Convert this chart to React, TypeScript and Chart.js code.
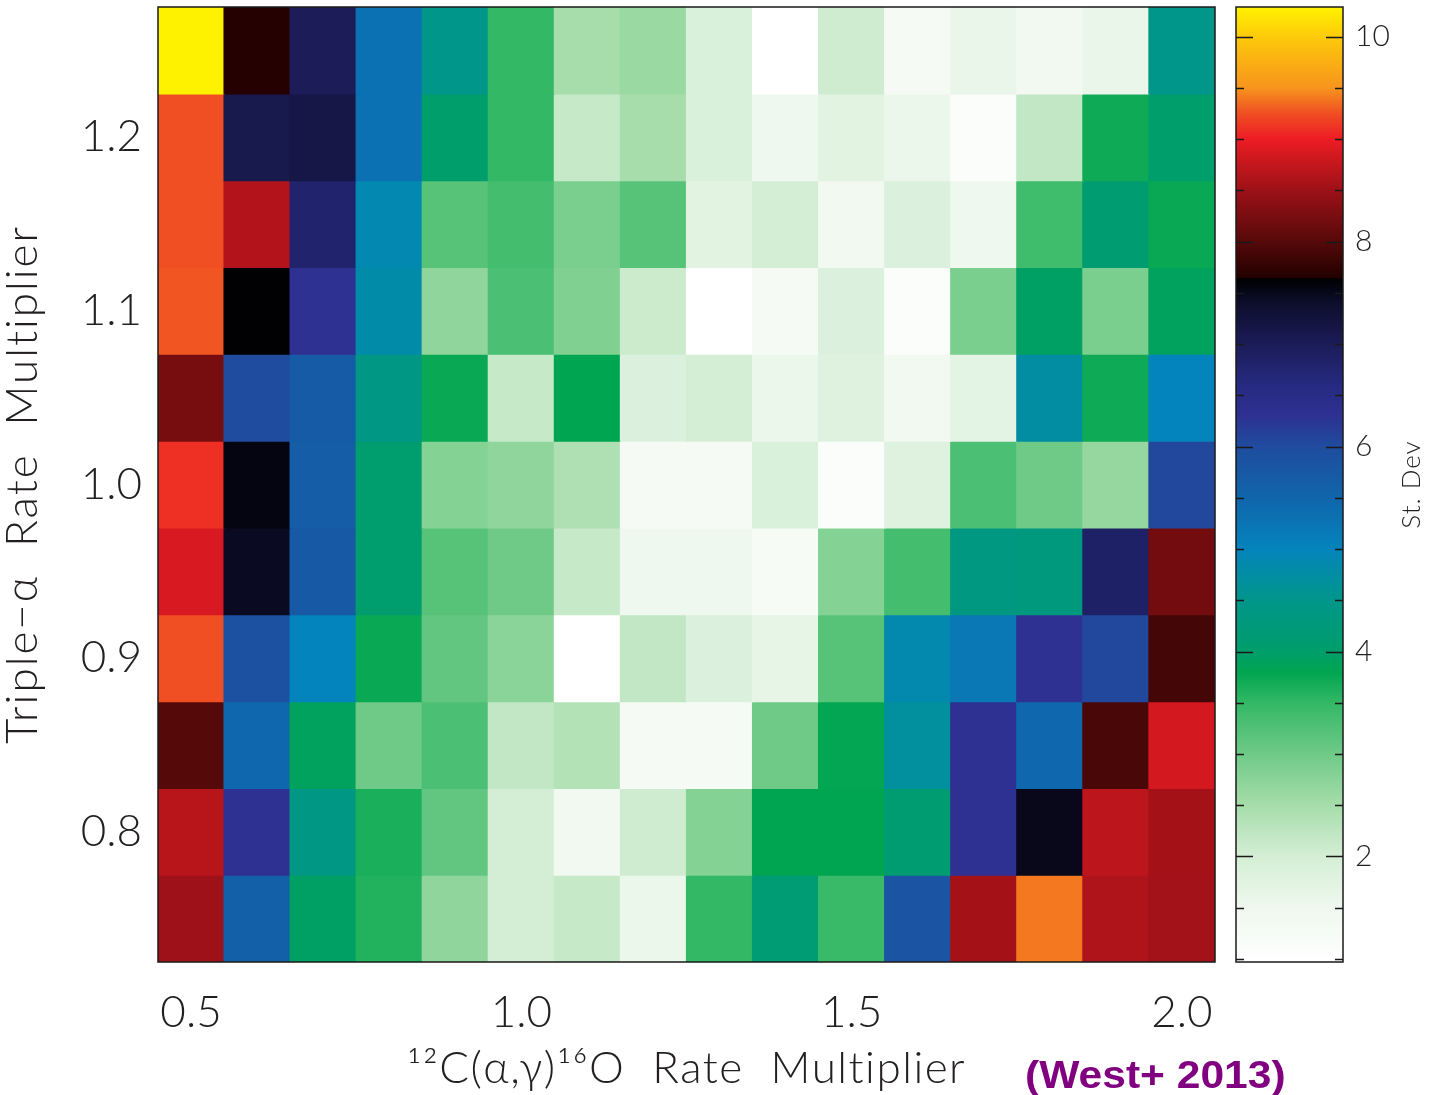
import { useEffect, useRef } from 'react';
import { Chart, registerables } from 'chart.js';

Chart.register(...registerables);

// 12C(α,γ)16O rate multipliers (heatmap columns)
const cagoMultipliers = [0.5, 0.6, 0.7, 0.8, 0.9, 1.0, 1.1, 1.2, 1.3, 1.4, 1.5, 1.6, 1.7, 1.8, 1.9, 2.0];
// Triple-alpha rate multipliers (heatmap rows, top to bottom)
const tripleAlphaMultipliers = [1.25, 1.2, 1.15, 1.1, 1.05, 1.0, 0.95, 0.9, 0.85, 0.8, 0.75];

// Standard deviation per row, one value per 12C(α,γ)16O multiplier
const stDevTa125 = [10.29, 7.68, 7.0, 5.3, 4.5, 3.5, 2.5, 2.6, 1.9, 0.97, 2.05, 1.3, 1.6, 1.4, 1.6, 4.5];
const stDevTa120 = [9.25, 7.1, 7.15, 5.3, 4.0, 3.5, 2.15, 2.5, 1.9, 1.5, 1.75, 1.55, 1.15, 2.2, 3.72, 4.0];
const stDevTa115 = [9.25, 8.64, 6.8, 4.9, 3.2, 3.35, 2.9, 3.2, 1.75, 2.0, 1.4, 1.85, 1.5, 3.4, 4.1, 3.75];
const stDevTa110 = [9.28, 7.63, 6.3, 4.8, 2.7, 3.3, 2.85, 2.1, 0.97, 1.3, 1.85, 1.15, 2.9, 3.95, 2.9, 3.9];
const stDevTa105 = [8.24, 6.0, 5.7, 4.4, 3.75, 2.15, 3.8, 1.85, 2.0, 1.55, 1.8, 1.45, 1.7, 4.75, 3.72, 5.0];
const stDevTa100 = [9.1, 7.55, 5.65, 4.05, 2.8, 2.7, 2.4, 1.3, 1.3, 1.9, 1.15, 1.8, 3.3, 3.0, 2.65, 6.05];
const stDevTa095 = [8.87, 7.45, 5.75, 4.05, 3.2, 3.0, 2.15, 1.5, 1.5, 1.25, 2.8, 3.35, 4.35, 4.3, 6.85, 8.2];
const stDevTa090 = [9.25, 5.9, 5.0, 3.75, 3.1, 2.75, 0.97, 2.2, 1.85, 1.65, 3.2, 4.85, 5.2, 6.3, 6.05, 7.88];
const stDevTa085 = [8.0, 5.45, 3.9, 3.0, 3.3, 2.2, 2.35, 1.3, 1.3, 3.0, 3.78, 4.7, 6.3, 5.45, 7.92, 8.84];
const stDevTa080 = [8.67, 6.3, 4.4, 3.65, 3.1, 2.0, 1.4, 2.05, 2.8, 3.8, 3.8, 4.1, 6.3, 7.5, 8.7, 8.55];
const stDevTa075 = [8.52, 5.6, 3.95, 3.6, 2.7, 2.0, 2.15, 1.55, 3.5, 4.15, 3.45, 5.85, 8.55, 9.4, 8.62, 8.54];

const stDevRows = [
  stDevTa125, stDevTa120, stDevTa115, stDevTa110, stDevTa105, stDevTa100,
  stDevTa095, stDevTa090, stDevTa085, stDevTa080, stDevTa075,
];

// Axis tick labels
const cagoTicks = [0.5, 1.0, 1.5, 2.0];
const tripleAlphaTicks = [0.8, 0.9, 1.0, 1.1, 1.2];
const stDevTicks = [2, 4, 6, 8, 10];

// Colour table: white -> greens -> teal -> blues -> black | dark red -> red -> orange -> yellow
const COLOR_STOPS: [number, string][] = [
  [0.97, '#ffffff'],
  [1.5, '#eff8ee'],
  [2.0, '#d4eed5'],
  [2.5, '#a6ddaa'],
  [3.0, '#6fca87'],
  [3.5, '#33b865'],
  [3.8, '#00a551'],
  [4.0, '#009e6b'],
  [4.5, '#00968a'],
  [5.0, '#0484bc'],
  [5.5, '#1065ab'],
  [6.0, '#1f4c9f'],
  [6.3, '#2e3192'],
  [6.6, '#262a80'],
  [7.0, '#1b1c58'],
  [7.4, '#0d0e2c'],
  [7.645, '#000000'],
  [7.65, '#220000'],
  [8.0, '#560909'],
  [8.5, '#9c1117'],
  [9.0, '#ed1c24'],
  [9.25, '#f04e23'],
  [9.5, '#f7941d'],
  [10.0, '#fdca0a'],
  [10.29, '#fff200'],
];

function hexToRgb(h: string): number[] {
  const n = parseInt(h.slice(1), 16);
  return [(n >> 16) & 255, (n >> 8) & 255, n & 255];
}

function stDevColor(v: number): string {
  const s = COLOR_STOPS;
  if (v <= s[0][0]) return s[0][1];
  for (let i = 1; i < s.length; i++) {
    if (v <= s[i][0]) {
      const t = (v - s[i - 1][0]) / (s[i][0] - s[i - 1][0]);
      const a = hexToRgb(s[i - 1][1]);
      const b = hexToRgb(s[i][1]);
      const c = a.map((x, k) => Math.round(x + (b[k] - x) * t));
      return `rgb(${c[0]},${c[1]},${c[2]})`;
    }
  }
  return s[s.length - 1][1];
}

const allValues = stDevRows.flat();
const cbMin = Math.min(...allValues);
const cbMax = Math.max(...allValues);

const rowStep = 0.05;
const yMin = Math.min(...tripleAlphaMultipliers) - rowStep / 2;
const yMax = Math.max(...tripleAlphaMultipliers) + rowStep / 2;

const PAGE_W = 1431;
const PAGE_H = 1095;
const TEXT = '#231f20';
const LIGHT_FONT = '"Lato", "Open Sans", "DejaVu Sans", sans-serif';

const X_TITLE = '¹²C(α,γ)¹⁶O  Rate  Multiplier';
const Y_TITLE = 'Triple−α  Rate  Multiplier';

// Frame, spaced axis titles and the citation note of the heatmap panel
const heatDecor = {
  id: 'heatDecor',
  afterDatasetsDraw(chart: any) {
    const { ctx, chartArea: a } = chart;
    ctx.save();
    ctx.strokeStyle = '#1a1a1a';
    ctx.lineWidth = 1.5;
    ctx.strokeRect(a.left, a.top, a.right - a.left, a.bottom - a.top);
    ctx.restore();
  },
  afterDraw(chart: any) {
    const { ctx, chartArea: a } = chart;
    ctx.save();
    ctx.fillStyle = TEXT;
    ctx.font = `300 44px ${LIGHT_FONT}`;
    ctx.textAlign = 'center';
    ctx.textBaseline = 'alphabetic';
    (ctx as any).letterSpacing = '1.5px';
    ctx.fillText(X_TITLE, (a.left + a.right) / 2, 1083);
    (ctx as any).letterSpacing = '2px';
    ctx.translate(37, (a.top + a.bottom) / 2);
    ctx.rotate(-Math.PI / 2);
    ctx.fillText(Y_TITLE, 0, 0);
    ctx.restore();

    ctx.save();
    ctx.font = 'bold 38px "Liberation Sans", Arial, sans-serif';
    ctx.fillStyle = '#800080';
    ctx.textBaseline = 'alphabetic';
    ctx.textAlign = 'left';
    ctx.translate(1025, 1088);
    ctx.scale(1.12, 1);
    ctx.fillText('(West+ 2013)', 0, 0);
    ctx.restore();
  },
};

const colorbarDecor = {
  id: 'colorbarDecor',
  afterDatasetsDraw(chart: any) {
    const { ctx, chartArea: a, scales } = chart;
    const y = scales.y;
    ctx.save();
    ctx.strokeStyle = '#1a1a1a';
    ctx.lineWidth = 1.5;
    for (let v = 1; v <= 10.0001; v += 0.5) {
      const py = Math.round(y.getPixelForValue(v)) + 0.5;
      const major = stDevTicks.includes(Math.round(v * 2) / 2);
      const len = major ? 17 : 8;
      ctx.beginPath();
      ctx.moveTo(a.left, py);
      ctx.lineTo(a.left + len, py);
      ctx.moveTo(a.right, py);
      ctx.lineTo(a.right - len, py);
      ctx.stroke();
    }
    ctx.strokeRect(a.left, a.top, a.right - a.left, a.bottom - a.top);
    // colour bar caption, reading upward
    ctx.translate(186, (a.top + a.bottom) / 2);
    ctx.rotate(-Math.PI / 2);
    ctx.font = `300 26px ${LIGHT_FONT}`;
    (ctx as any).letterSpacing = '1px';
    ctx.fillStyle = TEXT;
    ctx.textAlign = 'center';
    ctx.textBaseline = 'middle';
    ctx.fillText('St. Dev', 0, 0);
    ctx.restore();
  },
};

export default function App() {
  const heatRef = useRef<HTMLCanvasElement>(null);
  const barRef = useRef<HTMLCanvasElement>(null);

  useEffect(() => {
    const tickFont = { family: LIGHT_FONT, size: 44, weight: 300 as any };
    const heat = new Chart(heatRef.current!, {
      type: 'bar',
      data: {
        labels: cagoMultipliers.map((v) => v.toFixed(1)),
        datasets: tripleAlphaMultipliers.map((ta, r) => ({
          label: `Triple-α ${ta}`,
          data: cagoMultipliers.map(() => [ta - rowStep / 2, ta + rowStep / 2]),
          backgroundColor: stDevRows[r].map(stDevColor),
          borderWidth: 0,
          grouped: false,
          barPercentage: 1,
          categoryPercentage: 1,
          inflateAmount: 0.6,
        })) as any,
      },
      options: {
        responsive: false,
        animation: false,
        layout: { padding: { top: 7, right: PAGE_W - 1215, left: 0, bottom: 0 } },
        plugins: { legend: { display: false }, tooltip: { enabled: false } },
        scales: {
          x: {
            type: 'category',
            offset: true,
            grid: { display: false, drawTicks: false },
            border: { display: false },
            ticks: {
              autoSkip: false,
              maxRotation: 0,
              padding: 24,
              color: TEXT,
              font: tickFont,
              callback: (_v: any, i: number) =>
                cagoTicks.includes(cagoMultipliers[i]) ? cagoMultipliers[i].toFixed(1) : '',
            },
            afterFit: (s: any) => {
              s.height = PAGE_H - 962;
              s.paddingLeft = 0;
              s.paddingRight = 0;
            },
          },
          y: {
            type: 'linear',
            min: yMin,
            max: yMax,
            grid: { display: false, drawTicks: false },
            border: { display: false },
            afterBuildTicks: (s: any) => {
              s.ticks = tripleAlphaTicks.map((v) => ({ value: v }));
            },
            ticks: {
              padding: 16,
              color: TEXT,
              font: tickFont,
              callback: (v: any) => Number(v).toFixed(1),
            },
            afterFit: (s: any) => {
              s.width = 158;
              s.paddingTop = 0;
              s.paddingBottom = 0;
            },
          },
        },
      },
      plugins: [heatDecor],
    });

    const bar = new Chart(barRef.current!, {
      type: 'bar',
      data: {
        labels: ['St. Dev'],
        datasets: [
          {
            data: [[cbMin, cbMax]] as any,
            borderWidth: 0,
            barPercentage: 1,
            categoryPercentage: 1,
            inflateAmount: 0,
            backgroundColor: (c: any) => {
              const { chart } = c;
              const sy = chart.scales?.y;
              if (!chart.chartArea || !sy) return '#ffffff';
              const y0 = sy.getPixelForValue(cbMin);
              const y1 = sy.getPixelForValue(cbMax);
              const g = chart.ctx.createLinearGradient(0, y0, 0, y1);
              COLOR_STOPS.forEach(([v, col]) => g.addColorStop((v - cbMin) / (cbMax - cbMin), col));
              return g;
            },
          },
        ],
      },
      options: {
        responsive: false,
        animation: false,
        layout: { padding: { top: 7, bottom: PAGE_H - 962, left: 10, right: 0 } },
        plugins: { legend: { display: false }, tooltip: { enabled: false } },
        scales: {
          x: { display: false, offset: true },
          y: {
            position: 'right',
            min: cbMin,
            max: cbMax,
            grid: { display: false, drawTicks: false },
            border: { display: false },
            afterBuildTicks: (s: any) => {
              s.ticks = stDevTicks.map((v) => ({ value: v }));
            },
            ticks: {
              padding: 12,
              color: TEXT,
              font: { family: LIGHT_FONT, size: 30, weight: 300 as any },
            },
            afterFit: (s: any) => {
              s.width = PAGE_W - 1343;
              s.paddingTop = 0;
              s.paddingBottom = 0;
            },
          },
        },
      },
      plugins: [colorbarDecor],
    });

    return () => {
      heat.destroy();
      bar.destroy();
    };
  }, []);

  return (
    <div
      style={{
        position: 'fixed',
        left: 0,
        top: 0,
        width: PAGE_W,
        height: PAGE_H,
        background: '#ffffff',
        overflow: 'hidden',
      }}
    >
      <canvas
        ref={heatRef}
        width={PAGE_W}
        height={PAGE_H}
        style={{ position: 'absolute', left: 0, top: 0, display: 'block' }}
      />
      <canvas
        ref={barRef}
        width={PAGE_W - 1226}
        height={PAGE_H}
        style={{ position: 'absolute', left: 1226, top: 0, display: 'block' }}
      />
    </div>
  );
}
